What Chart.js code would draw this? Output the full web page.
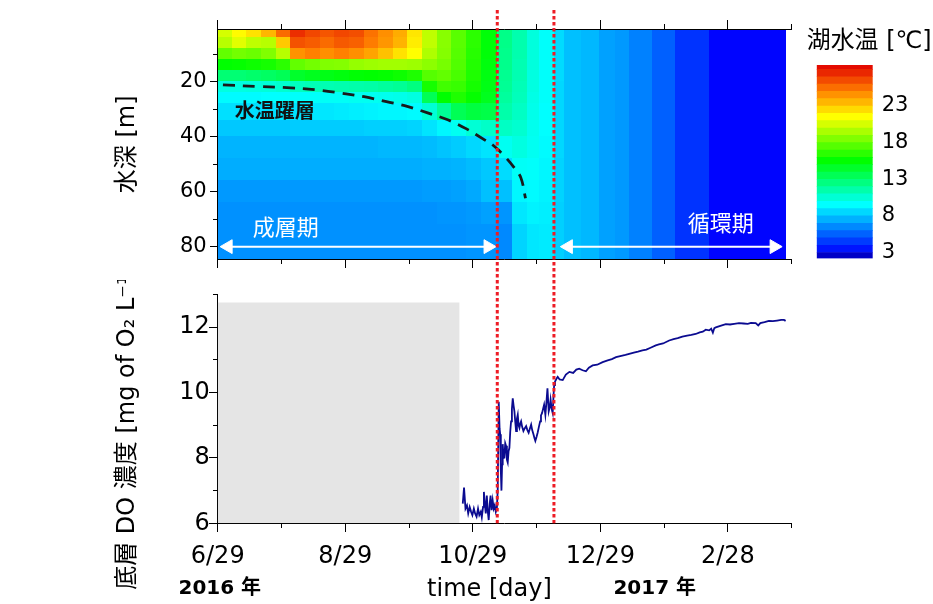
<!DOCTYPE html>
<html><head><meta charset="utf-8">
<script src="https://cdn.jsdelivr.net/npm/chart.js@4.4.1/dist/chart.umd.min.js"></script>
<style>
html,body{margin:0;padding:0;background:#fff;}
#wrap{position:relative;width:933px;height:604px;overflow:hidden;background:#fff;}
canvas{position:absolute;}
</style></head><body>
<div id="wrap">
<canvas id="cTop" width="933" height="280" style="left:0;top:0;width:933px;height:280px"></canvas>
<canvas id="cBot" width="933" height="324" style="left:0;top:280px;width:933px;height:324px"></canvas>
<canvas id="cBar" width="143" height="280" style="left:790px;top:0;width:143px;height:280px"></canvas>
</div>
<script>
// ---------------- DATA ----------------
const xTickDays   = [0, 30.5, 61, 91.5, 122, 152.5, 183, 213.5, 244, 274.5];
const xTickLabels = ['6/29','','8/29','','10/29','','12/29','','2/28',''];
const yearLabels    = ['2016 年','2017 年'];
const yearLabelDays = [1, 209];
const eventDays = [133.7, 160.8];

const depthTicks      = [10,20,30,40,50,60,70,80];
const depthTickLabels = ['','20','','40','','60','','80'];
const doTicks      = [6,7,8,9,10,11,12,13];
const doTickLabels = ['6','','8','','10','','12',''];
const cbTicks = [3,8,13,18,23];
const cbEdges = [2.2,3,4,5,6,7,8,9,10,11,12,13,14,15,16,17,18,19,20,21,22,23,24,25,26,27,28,28.6];

// heatmap: column start days, depth band edges, temperature [°C] per column (rows top->bottom)
const colStart = [0,7,14,21,28,35,42,49,56,63,70,77,84,91,98,105,112,119,126,133.7,141,148,154,161,166,174,182.5,190,197,208,219,235];
const colEnd = 272;
const depthEdges = [1,4,8,12,16,20,24,28,34,40,48,56,64,72,85];
const tempGrid = [
 [20.5,19.8,17.8,15.5,12.8,10.2,9.4,8.7,8.1,7.6,7.4,6.9,6.7,6.7],
 [21.6,20.8,18.2,15.6,12.8,10.2,9.4,8.7,8.1,7.6,7.4,6.9,6.7,6.7],
 [22.3,20.0,18.0,15.8,13.0,10.3,9.4,8.7,8.1,7.6,7.4,6.9,6.7,6.7],
 [23.5,19.8,18.5,16.0,13.2,10.4,9.5,8.7,8.1,7.6,7.4,6.9,6.7,6.7],
 [25.6,23.0,19.8,16.5,13.5,10.6,9.5,8.8,8.1,7.6,7.4,6.9,6.7,6.7],
 [27.3,26.3,24.5,17.8,14.5,11.0,9.6,8.8,8.2,7.6,7.4,6.9,6.7,6.7],
 [26.6,26.0,25.0,18.2,14.8,11.2,9.6,8.9,8.2,7.6,7.4,6.9,6.7,6.7],
 [26.2,25.6,24.6,18.5,15.0,11.3,9.7,8.9,8.2,7.6,7.4,6.9,6.7,6.7],
 [26.6,26.1,25.0,18.6,15.2,11.4,9.7,9.0,8.2,7.6,7.4,6.9,6.7,6.7],
 [26.4,25.9,24.6,19.0,15.4,11.5,9.8,9.1,8.2,7.6,7.4,6.9,6.7,6.7],
 [25.4,25.1,24.0,19.2,15.5,11.6,9.8,9.2,8.3,7.6,7.4,6.9,6.7,6.7],
 [24.6,24.4,23.2,19.3,15.6,11.8,9.9,9.3,8.3,7.7,7.4,6.9,6.7,6.7],
 [23.8,23.6,22.3,19.3,15.8,12.0,10.0,9.3,8.3,7.7,7.4,6.9,6.7,6.7],
 [22.2,22.0,21.5,19.2,16.2,12.5,10.2,9.4,8.4,7.7,7.4,6.9,6.7,6.7],
 [20.0,20.0,19.6,18.8,17.5,16.0,13.5,10.5,8.8,7.8,7.5,7.0,6.7,6.7],
 [18.7,18.7,18.6,18.3,17.8,17.0,15.5,12.0,9.3,8.0,7.5,7.0,6.8,6.7],
 [17.6,17.6,17.5,17.4,17.2,16.8,16.2,13.5,9.8,8.2,7.6,7.1,6.8,6.7],
 [16.5,16.5,16.4,16.3,16.2,16.0,15.6,14.0,10.5,8.5,7.8,7.3,6.9,6.8],
 [15.3,15.3,15.3,15.2,15.1,15.0,14.8,13.8,10.8,8.8,8.1,7.9,7.1,6.8],
 [12.3,12.3,12.2,12.2,12.1,12.0,11.8,11.5,10.9,9.8,8.6,7.9,6.8,6.5],
 [11.4,11.4,11.4,11.3,11.3,11.2,11.1,10.9,10.6,10.2,9.7,9.3,8.9,8.4],
 [10.3,10.3,10.3,10.3,10.2,10.2,10.1,10.0,9.9,9.8,9.6,9.4,9.2,8.9],
 [9.6,9.6,9.6,9.6,9.6,9.6,9.6,9.5,9.5,9.4,9.3,9.2,9.1,9.0],
 [8.6,8.6,8.6,8.6,8.6,8.5,8.5,8.5,8.5,8.5,8.4,8.4,8.3,8.3],
 [7.9,7.9,7.9,7.9,7.9,7.9,7.9,7.9,7.9,7.9,7.9,7.9,7.9,7.9],
 [7.7,7.7,7.7,7.7,7.7,7.7,7.7,7.7,7.7,7.7,7.7,7.7,7.7,7.7],
 [7.1,7.1,7.1,7.1,7.1,7.1,7.1,7.1,7.1,7.1,7.1,7.1,7.1,7.1],
 [6.9,6.9,6.9,6.9,6.9,6.9,6.9,6.9,6.9,6.9,6.9,6.9,6.9,6.9],
 [6.3,6.3,6.3,6.3,6.3,6.3,6.3,6.3,6.3,6.3,6.3,6.3,6.3,6.3],
 [5.45,5.45,5.45,5.45,5.45,5.45,5.45,5.45,5.45,5.45,5.45,5.45,5.45,5.45],
 [4.3,4.3,4.3,4.3,4.3,4.3,4.3,4.3,4.3,4.3,4.3,4.3,4.3,4.3],
 [3.1,3.1,3.1,3.1,3.1,3.1,3.1,3.1,3.1,3.1,3.1,3.1,3.1,3.1]
];

// thermocline (dashed)
const thermoDays  = [2.5,20,35,47,59,70,80.7,91,100.4,110,119,127.6,132.4,137,142,145,147.2];
const thermoDepth = [21.2,21.8,22.3,23.0,24.2,25.5,27.3,29.1,31.4,33.9,37.2,41.2,43.6,47,51.5,55,62.4];

// period arrows and labels
const stratArrowDays = [5, 129.3];
const circArrowDays  = [167.7, 266.1];
const arrowDepth = 80;
const annotTexts  = ['水温躍層','成層期','循環期'];
const annotDays   = [27.3, 32.6, 240.6];
const annotDepths = [30.3, 72.7, 71.4];

// DO
const grayDays = [0, 115.7];
const grayTop = 12.75;
const doDays = [117.2,117.8,118.5,119.2,119.8,120.5,121.2,121.8,122.5,123.1,123.8,124.5,125.1,125.8,126.3,126.9,127.3,127.8,128.2,128.7,129.1,129.6,130.1,130.5,131.0,131.5,132.0,132.5,133.0,133.5,133.9,134.4,134.8,135.1,135.4,135.7,136.0,136.3,136.7,137.1,137.5,137.9,138.3,138.7,139.1,139.5,139.9,140.3,140.7,141.1,141.5,141.9,142.3,142.7,143.1,143.5,143.9,144.3,144.7,145.1,145.6,146.2,146.8,147.5,148.1,148.7,149.3,149.9,150.4,151.0,151.5,151.9,152.5,153.0,153.6,154.2,154.6,155.1,155.6,156.1,156.7,157.2,157.7,158.3,158.8,159.2,159.7,160.2,160.6,160.9,161.3,162.0,162.6,163.5,165.0,166.5,168.2,170.0,171.5,172.9,174.5,176.1,177.5,179.3,181.5,184.1,186.5,188.5,190.5,193.0,195.0,196.8,199.0,201.0,203.1,205.0,207.0,209.5,211.0,213.0,215.9,218.0,220.0,222.2,224.5,226.5,228.6,230.5,232.0,233.4,235.0,236.0,236.8,237.5,238.2,240.0,241.5,243.0,245.0,247.0,249.3,251.5,253.5,255.0,257.3,258.5,259.5,261.5,263.6,265.5,267.5,269.5,270.8,271.6];
const doValues = [6.6,7.09,6.45,6.55,6.3,6.5,6.35,6.25,6.45,6.3,6.2,6.45,6.25,6.35,6.18,6.5,6.96,6.55,6.3,6.85,6.4,6.1,6.6,6.85,6.4,6.7,6.45,6.55,6.35,6.45,7.0,9.72,8.9,8.72,7.6,7.0,7.8,8.42,8.0,8.01,8.45,8.37,7.95,7.86,8.2,8.31,8.8,9.12,9.5,9.82,9.6,9.42,9.1,8.82,9.2,9.32,9.0,8.92,9.05,9.12,8.95,8.82,8.9,8.97,8.85,8.77,8.9,9.02,8.85,8.72,8.6,8.52,8.65,8.77,8.95,9.12,9.3,9.37,9.5,9.63,9.32,9.7,10.13,9.42,9.55,9.78,9.5,9.37,9.9,10.23,10.33,10.42,10.48,10.4,10.38,10.55,10.63,10.6,10.7,10.73,10.68,10.65,10.76,10.83,10.85,10.93,10.98,11.02,11.08,11.12,11.15,11.18,11.22,11.25,11.29,11.31,11.37,11.44,11.47,11.5,11.59,11.63,11.66,11.71,11.74,11.76,11.79,11.84,11.86,11.92,11.9,11.95,11.83,11.97,11.99,12.03,12.06,12.09,12.08,12.1,12.12,12.11,12.1,12.13,12.12,12.05,12.12,12.15,12.19,12.18,12.2,12.22,12.22,12.19];

// ---------------- STYLE / HELPERS ----------------
const F = "'DejaVu Sans', 'Noto Sans CJK JP', sans-serif";
const FJ = "'Noto Sans CJK JP', sans-serif";
Chart.defaults.font.family = F;
Chart.defaults.color = '#000';
Chart.defaults.animation = false;

const cmapStops = [2.2, 3, 9.5, 15.5, 21.5, 25, 28.6];
const cmapRGB = [[0,0,140],[0,0,255],[0,255,255],[0,255,0],[255,255,0],[255,128,0],[225,0,0]];
function tempColor(t){
  if (t <= cmapStops[0]) return 'rgb(' + cmapRGB[0].join(',') + ')';
  for (let k = 1; k < cmapStops.length; k++){
    if (t <= cmapStops[k]){
      const f = (t - cmapStops[k-1]) / (cmapStops[k] - cmapStops[k-1]);
      const a = cmapRGB[k-1], b = cmapRGB[k];
      return 'rgb(' + [0,1,2].map(c => Math.round(a[c] + (b[c]-a[c]) * f)).join(',') + ')';
    }
  }
  return 'rgb(' + cmapRGB[cmapRGB.length-1].join(',') + ')';
}

function setTicks(values){ return s => { s.ticks = values.map(v => ({value: v})); }; }

function makeTickPlugin(spec){
  return { id: 'tickMarks', afterDraw(chart){
    const ctx = chart.ctx; ctx.save(); ctx.strokeStyle = '#000'; ctx.lineWidth = 1;
    Object.keys(spec).forEach(id => {
      const s = chart.scales[id], sp = spec[id];
      s.ticks.forEach((t, i) => {
        const len = sp.labels[i] ? sp.major : sp.minor;
        const p = Math.floor(s.getPixelForValue(t.value)) + 0.5;
        ctx.beginPath();
        if (s.position === 'bottom'){ const y0 = Math.round(chart.chartArea.bottom); ctx.moveTo(p, y0); ctx.lineTo(p, y0 + len); }
        else if (s.position === 'top'){ const y0 = Math.round(chart.chartArea.top); ctx.moveTo(p, y0); ctx.lineTo(p, y0 - len); }
        else { const x0 = Math.round(chart.chartArea.left); ctx.moveTo(x0, p); ctx.lineTo(x0 - len, p); }
        ctx.stroke();
      });
    });
    ctx.restore();
  }};
}

function makeEventPlugin(topFn, botFn){
  return { id: 'events', afterDraw(chart){
    const ctx = chart.ctx, x = chart.scales.x;
    ctx.save(); ctx.strokeStyle = '#ee1c25'; ctx.lineWidth = 3; ctx.setLineDash([3.5, 2.5]);
    eventDays.forEach(d => {
      const p = x.getPixelForValue(d);
      ctx.beginPath(); ctx.moveTo(p, topFn(chart)); ctx.lineTo(p, botFn(chart)); ctx.stroke();
    });
    ctx.restore();
  }};
}

const heatmapPlugin = { id: 'heatmap', beforeDraw(chart){
  const {ctx, chartArea: a, scales: {x, y}} = chart;
  ctx.save(); ctx.beginPath(); ctx.rect(a.left, a.top, a.right - a.left, a.bottom - a.top); ctx.clip();
  for (let i = 0; i < colStart.length; i++){
    const x0 = Math.floor(x.getPixelForValue(colStart[i]));
    const last = i === colStart.length - 1;
    const x1 = last ? Math.round(x.getPixelForValue(colEnd)) : Math.ceil(x.getPixelForValue(colStart[i+1])) + 1;
    for (let j = 0; j < depthEdges.length - 1; j++){
      const y0 = Math.floor(y.getPixelForValue(depthEdges[j]));
      const y1 = Math.ceil(y.getPixelForValue(depthEdges[j+1])) + 1;
      ctx.fillStyle = tempColor(tempGrid[i][j]);
      ctx.fillRect(x0, y0, x1 - x0, y1 - y0);
    }
  }
  ctx.restore();
}};

const annotPlugin = { id: 'annot', afterDatasetsDraw(chart){
  const {ctx, scales: {x, y}} = chart;
  ctx.save(); ctx.textAlign = 'center'; ctx.textBaseline = 'middle';
  annotTexts.forEach((t, i) => {
    if (i === 0){ ctx.font = 'bold 20px ' + FJ; ctx.fillStyle = '#111'; }
    else { ctx.font = '22px ' + FJ; ctx.fillStyle = '#fff'; }
    ctx.fillText(t, x.getPixelForValue(annotDays[i]), y.getPixelForValue(annotDepths[i]));
  });
  ctx.restore();
}};

const yearPlugin = { id: 'years', afterDraw(chart){
  const {ctx, scales: {x}} = chart;
  ctx.save(); ctx.textAlign = 'center'; ctx.textBaseline = 'middle';
  ctx.font = 'bold 20px ' + F; ctx.fillStyle = '#000';
  yearLabels.forEach((t, i) => ctx.fillText(t, x.getPixelForValue(yearLabelDays[i]), 309));
  ctx.restore();
}};

const xBase = { type: 'linear', min: 0, max: 274.5, afterBuildTicks: setTicks(xTickDays),
  grid: { display: false, drawTicks: true, tickLength: 9 }, border: { display: true, color: '#000', width: 1 } };

// ---------------- TOP: temperature ----------------
new Chart(document.getElementById('cTop'), {
  type: 'line',
  data: { datasets: [
    { data: thermoDays.map((d, i) => ({x: d, y: thermoDepth[i]})), borderColor: '#1a1a1a', borderWidth: 2.8,
      borderDash: [12, 8], pointRadius: 0, tension: 0.4, fill: false },
    { data: stratArrowDays.map(d => ({x: d, y: arrowDepth})), borderColor: '#fff', borderWidth: 2,
      pointStyle: 'triangle', pointRadius: 8, pointRotation: [-90, 90], pointBackgroundColor: '#fff', pointBorderColor: '#fff', pointBorderWidth: 1 },
    { data: circArrowDays.map(d => ({x: d, y: arrowDepth})), borderColor: '#fff', borderWidth: 2,
      pointStyle: 'triangle', pointRadius: 8, pointRotation: [-90, 90], pointBackgroundColor: '#fff', pointBorderColor: '#fff', pointBorderWidth: 1 }
  ]},
  options: {
    responsive: false, animation: false,
    layout: { padding: { left: 0, right: 141.3, top: 0, bottom: 0 } },
    plugins: { legend: { display: false }, tooltip: { enabled: false } },
    scales: {
      x: Object.assign({}, xBase, { position: 'bottom', ticks: { display: false }, afterFit: s => { s.height = 20.7; } }),
      x2: Object.assign({}, xBase, { position: 'top', ticks: { display: false }, afterFit: s => { s.height = 29.3; } }),
      y: { type: 'linear', reverse: true, min: 1, max: 84.6, position: 'left', afterBuildTicks: setTicks(depthTicks),
        ticks: { callback: (v, i) => depthTickLabels[i], font: { size: 21 }, padding: 3, autoSkip: false },
        grid: { display: false, drawTicks: true, tickLength: 8 }, border: { display: true, color: '#000' },
        title: { display: true, text: '水深 [m]', font: { size: 24 }, padding: { top: 113.6, bottom: 0 } },
        afterFit: s => { s.width = 217.7; } }
    }
  },
  plugins: [heatmapPlugin, annotPlugin,
    makeTickPlugin({ x: {labels: xTickLabels, major: 9, minor: 5}, x2: {labels: xTickLabels, major: 9, minor: 5}, y: {labels: depthTickLabels, major: 8, minor: 5} }),
    makeEventPlugin(() => 10, c => c.height)]
});

// ---------------- COLORBAR ----------------
new Chart(document.getElementById('cBar'), {
  type: 'bar',
  data: { labels: [''], datasets: cbEdges.slice(0, -1).map((lo, k) => ({
    data: [[lo, cbEdges[k+1]]], backgroundColor: tempColor((lo + cbEdges[k+1]) / 2),
    borderWidth: 0, barPercentage: 1, categoryPercentage: 1, yAxisID: 'y' })) },
  options: {
    responsive: false, animation: false,
    layout: { padding: { left: 16.7, right: 1.3, top: 0, bottom: 16.7 } },
    plugins: { legend: { display: false }, tooltip: { enabled: false },
      title: { display: true, text: '湖水温 [℃]', font: { size: 24, weight: 'normal' }, color: '#000', padding: { top: 27.3, bottom: 8.9 } } },
    scales: {
      x: { display: false, stacked: true },
      y: { position: 'right', min: 2.2, max: 28.6, stacked: false, afterBuildTicks: setTicks(cbTicks),
        ticks: { font: { size: 21 }, padding: 9 }, grid: { display: false, drawTicks: false }, border: { display: false },
        afterFit: s => { s.width = 59; } },
      yL: { position: 'left', display: true, ticks: { display: false }, grid: { display: false, drawTicks: false },
        border: { display: false }, afterFit: s => { s.width = 10; } }
    }
  }
});

// ---------------- BOTTOM: DO ----------------
new Chart(document.getElementById('cBot'), {
  type: 'line',
  data: { datasets: [
    { data: grayDays.map(d => ({x: d, y: grayTop})), borderWidth: 0, borderColor: 'rgba(0,0,0,0)', backgroundColor: '#e5e5e5',
      fill: 'start', pointRadius: 0, order: 2 },
    { data: doDays.map((d, i) => ({x: d, y: doValues[i]})), borderColor: '#0b0b90', borderWidth: 1.8, pointRadius: 0,
      fill: false, tension: 0, order: 1 }
  ]},
  options: {
    responsive: false, animation: false,
    layout: { padding: { left: 0, right: 141.3, top: 12.3, bottom: 0 } },
    plugins: { legend: { display: false }, tooltip: { enabled: false } },
    scales: {
      x: Object.assign({}, xBase, { position: 'bottom',
        ticks: { callback: (v, i) => xTickLabels[i], font: { size: 24 }, padding: 10, maxRotation: 0, autoSkip: false },
        title: { display: true, text: 'time [day]    ', font: { size: 24 }, padding: { top: 0, bottom: 0 } },
        afterFit: s => { s.height = 80.7; } }),
      y: { type: 'linear', min: 6, max: 13, position: 'left', afterBuildTicks: setTicks(doTicks),
        ticks: { callback: (v, i) => doTickLabels[i], font: { size: 24 }, padding: 0, autoSkip: false },
        grid: { display: false, drawTicks: true, tickLength: 8 }, border: { display: true, color: '#000' },
        title: { display: true, text: '底層 DO 濃度 [mg of O₂ L⁻¹]     ', font: { size: 24 }, padding: { top: 113.6, bottom: 0 } },
        afterFit: s => { s.width = 217.7; } }
    }
  },
  plugins: [yearPlugin,
    makeTickPlugin({ x: {labels: xTickLabels, major: 9, minor: 5}, y: {labels: doTickLabels, major: 9, minor: 5} }),
    makeEventPlugin(() => 0, c => c.chartArea.bottom)]
});
</script>
</body></html>
